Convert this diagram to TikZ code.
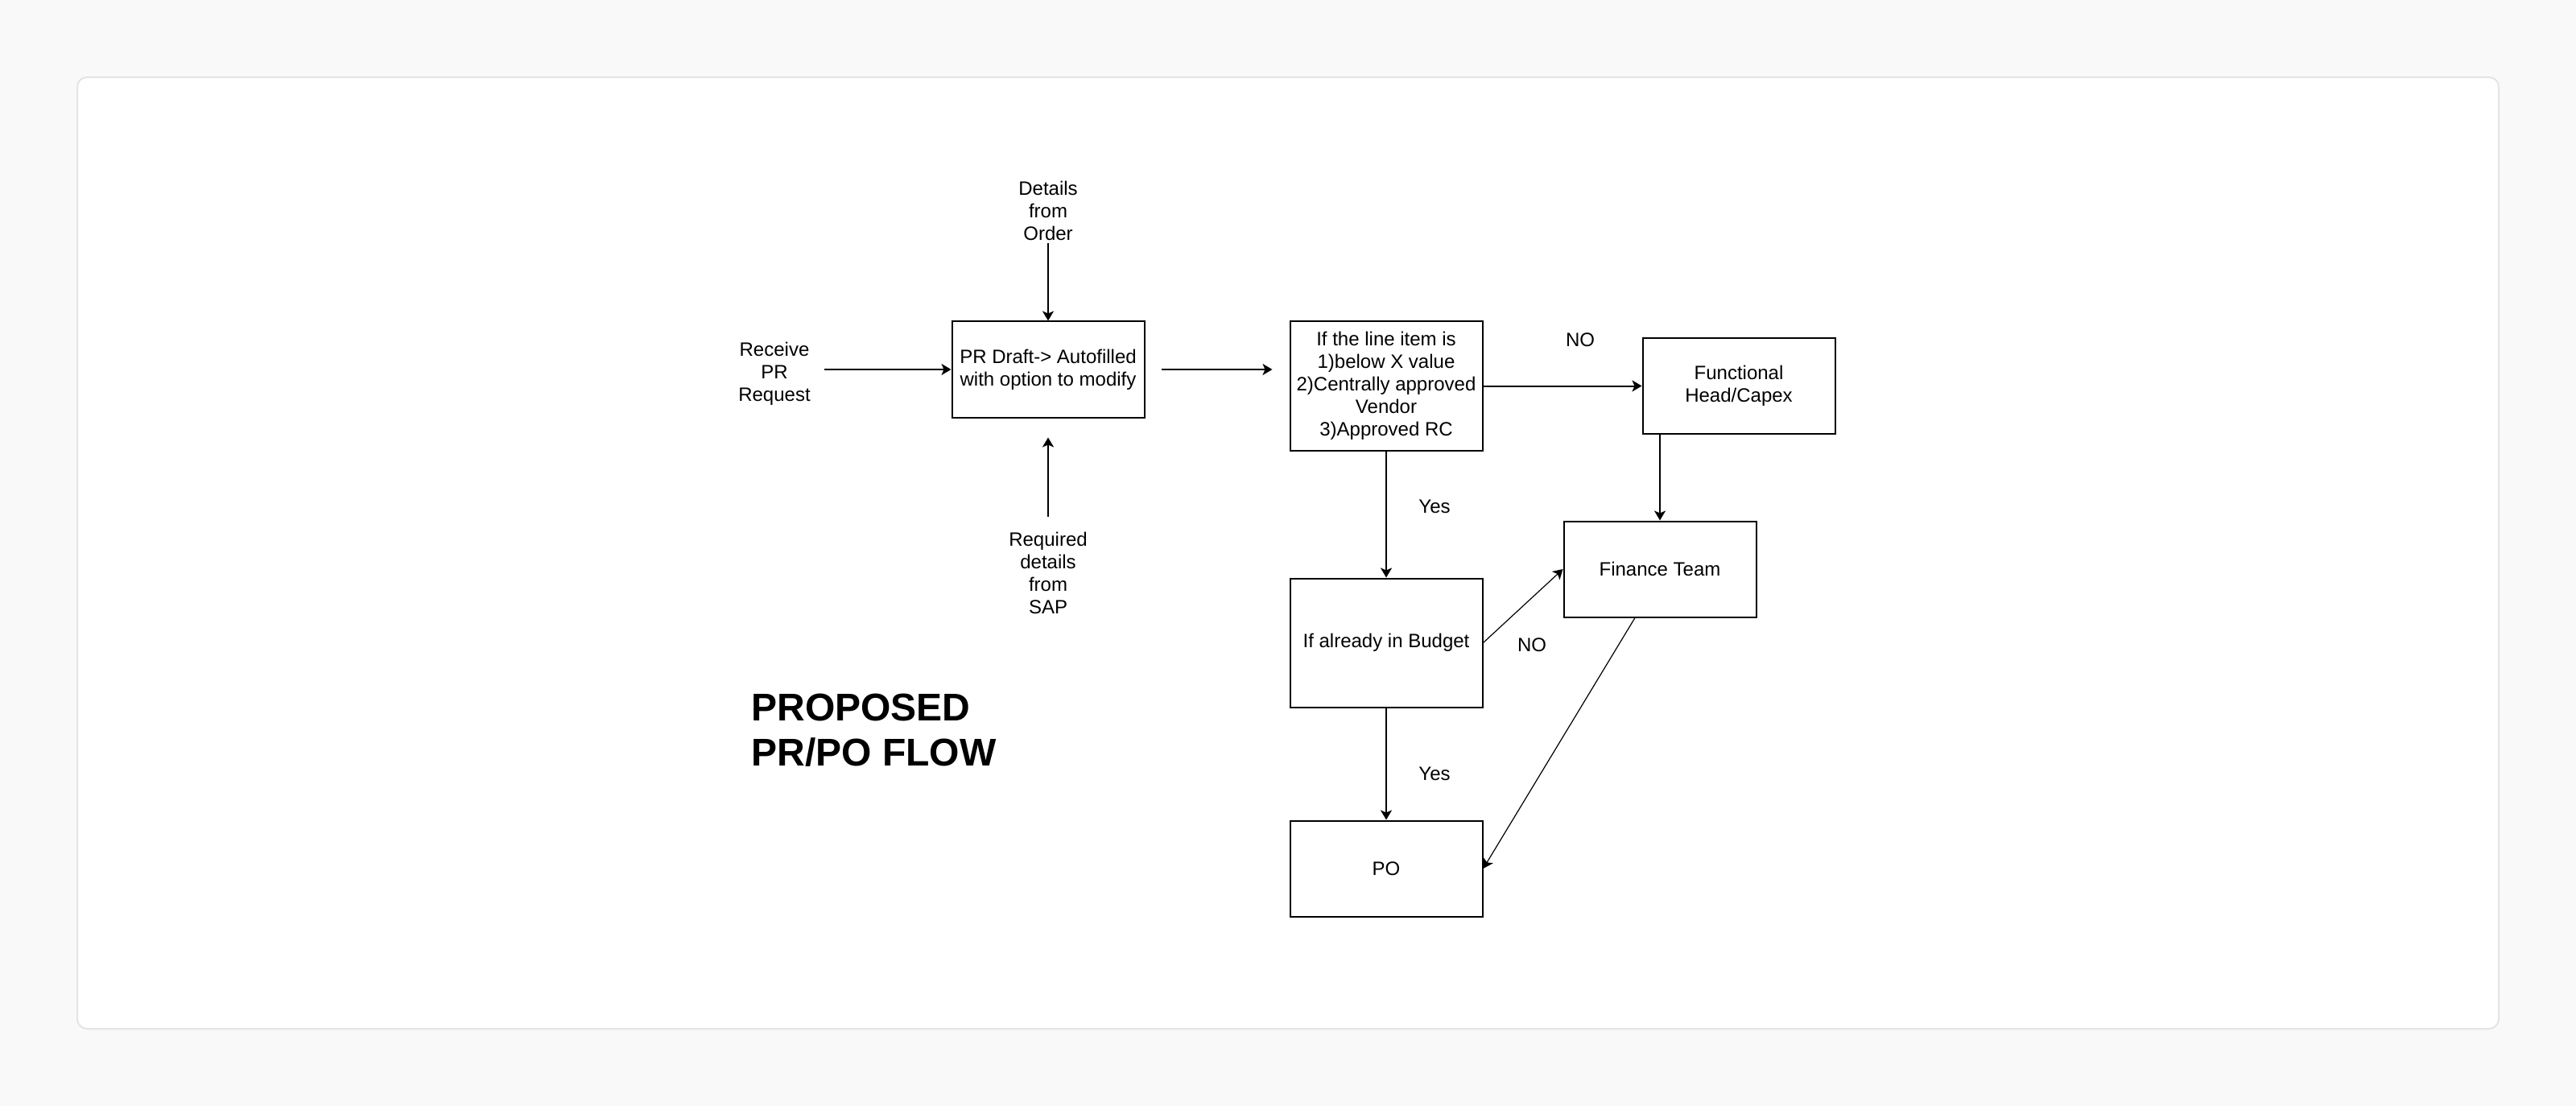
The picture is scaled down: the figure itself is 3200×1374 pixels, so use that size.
\documentclass[tikz,border=0pt]{standalone}
\usepackage{fontspec}
\setmainfont{Liberation Sans}
\usepackage{xcolor}
\definecolor{pageBg}{HTML}{F9F9F9}
\definecolor{cardEdge}{HTML}{E4E4E4}
\usetikzlibrary{positioning,calc,arrows.meta}
\tikzset{%
  flowBox/.style={%
    rectangle,
    draw=black,
    line width=1pt,
    fill=white,
    minimum width=119.5pt,
    minimum height=59.5pt,
    inner sep=2pt,
    align=center,
    font=\fontsize{12}{14}\selectfont
  },
  tallBox/.style={%
    flowBox,
    minimum height=80pt
  },
  flowLabel/.style={%
    inner sep=0pt,
    align=center,
    font=\fontsize{12}{14}\selectfont
  },
  flowArrow/.style={%
    -{Stealth[length=6pt,width=7pt,inset=1.5pt]},
    line width=1pt
  },
  thinArrow/.style={%
    flowArrow,
    line width=0.6pt
  }
}

\begin{document}
\begin{tikzpicture}[x=0.5pt,y=-0.5pt]
            % page and card
            \fill[pageBg] (0,0) rectangle (3200,1374);
            \draw[fill=white, draw=cardEdge, line width=1pt, rounded corners=6pt] (96,96) rectangle (3104,1278);

            \node[flowBox] (prDraft) at (1302,459) {PR Draft-> Autofilled\\with option to modify};
            \node[tallBox, right=89.5pt of prDraft.north east, anchor=north west] (lineCheck) {If the line item is\\1)below X value\\2)Centrally approved\\Vendor\\3)Approved RC};
            \node[flowBox, right=98.5pt of lineCheck] (funcHead) {Functional\\Head/Capex};
            \node[tallBox, below=78.5pt of lineCheck] (budget) {If already in Budget};
            \node[flowBox, below=69.5pt of budget] (poBox) {PO};
            \node[flowBox] (finance) at (2062,707) {Finance Team};

            \node[flowLabel] (receive) at (962,464) {Receive\\PR\\Request};
            \node[flowLabel] (orderDetails) at (1302,262) {Details\\from\\Order};
            \node[flowLabel] (sapDetails) at (1302,712) {Required\\details\\from\\SAP};

            \node[flowLabel] (noTop) at (1963,422) {NO};
            \node[flowLabel] (yesTop) at (1782,629) {Yes};
            \node[flowLabel] (noMid) at (1903,801) {NO};
            \node[flowLabel] (yesLow) at (1782,961) {Yes};

            \node[inner sep=0pt, anchor=north west, align=left, font=\fontsize{24}{28}\selectfont\bfseries] (title) at (933,862) {PROPOSED\\PR/PO FLOW};

            \draw[flowArrow, shorten <=8.5pt] (receive.east |- prDraft.west) -- (prDraft.west);
            \draw[flowArrow, shorten <=1.5pt] (orderDetails) -- (prDraft);
            \draw[flowArrow, shorten <=9.5pt, shorten >=12pt] (sapDetails) -- (prDraft);
            \draw[flowArrow, shorten <=10pt, shorten >=10.5pt] (prDraft.east) -- (prDraft.east -| lineCheck.west);
            \draw[flowArrow] (lineCheck) -- (funcHead);
            \draw[flowArrow] (finance.north |- funcHead.south) -- (finance.north);
            \draw[flowArrow] (lineCheck) -- (budget);
            \draw[flowArrow] (budget) -- (poBox);
            \draw[thinArrow] (budget.east) -- (finance.west);
            \draw[thinArrow] ([xshift=-15.5pt]finance.south) -- (poBox.east);
        \end{tikzpicture}
\end{document}
